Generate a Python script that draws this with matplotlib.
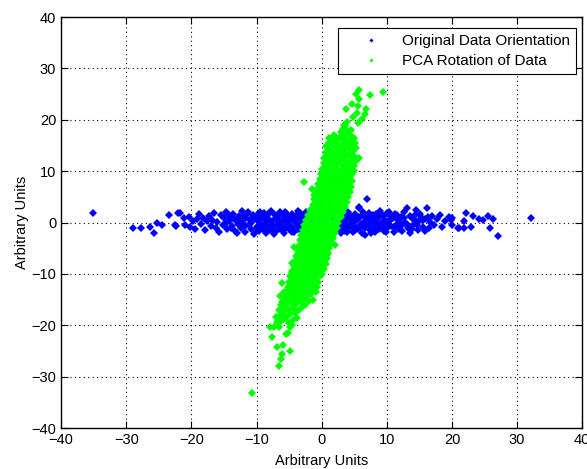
import matplotlib
matplotlib.use("Agg")
import matplotlib.pyplot as plt

plt.rcParams['font.family'] = ['Liberation Sans', 'DejaVu Sans']

# original orientation (blue)
blue_x = [
    -35.1, -28.9, -27.7, -26.3, -25.7, -25.2, -24.5, -23.4, -22.3, -21.8, -21.2, -21.0, -22.0, -22.5,
    -20.4, -20.2, -19.8, -19.5, -19.1, -18.8, -18.5, -18.2, -17.9, -17.6,
    -17.3, -17.0, -16.8, -16.5, -16.2, -16.0, -15.7, -15.5, -15.2, -15.0,
    -14.7, -14.5, -14.3, -14.0, -13.8, -13.6, -13.3, -13.1, -12.9, -12.7,
    -12.4, -12.2, -12.0, -11.8, -11.6, -11.4, -11.2, -11.0, -10.8, -10.6,
    -10.4, -10.2, -10.0,
    -9.9, -9.7, -9.6, -9.4, -9.3, -9.1, -9.0, -8.8, -8.7, -8.5,
    -8.4, -8.2, -8.1, -7.9, -7.8, -7.6, -7.5, -7.3, -7.2, -7.0,
    -6.9, -6.7, -6.6, -6.4, -6.3, -6.1, -6.0, -5.8, -5.7, -5.5,
    -5.4, -5.2, -5.1, -4.9, -4.8, -4.6, -4.5, -4.3, -4.2, -4.0,
    -3.9, -3.7, -3.6, -3.4, -3.3, -3.1, -3.0, -2.8, -2.7, -2.5,
    -2.4, -2.2, -2.1, -1.9, -1.8, -1.6, -1.5, -1.3, -1.2, -1.0,
    -0.9, -0.7, -0.6, -0.4, -0.3, -0.1, 0.0, 0.2, 0.3, 0.5,
    0.6, 0.8, 0.9, 1.1, 1.2, 1.4, 1.5, 1.7, 1.8, 2.0,
    2.1, 2.3, 2.4, 2.6, 2.7, 2.9, 3.0, 3.2, 3.3, 3.5,
    3.6, 3.8, 3.9, 4.1, 4.2, 4.4, 4.5, 4.7, 4.8, 5.0,
    5.1, 5.3, 5.4, 5.6, 5.7, 5.9, 6.0, 6.2, 6.3, 6.5,
    6.6, 6.8, 7.0, 7.1, 7.3, 7.4, 7.6, 7.7, 7.9, 8.0,
    8.2, 8.3, 8.5, 8.6, 8.8, 8.9, 9.1, 9.2, 9.4, 9.5,
    9.7, 9.8, 10.0,
    10.1, 10.3, 10.5, 10.7, 10.9, 11.1, 11.3, 11.5, 11.7, 11.9,
    12.1, 12.3, 12.6, 12.8, 13.1, 13.3, 13.6, 13.8, 14.0, 14.3,
    14.5, 14.8, 15.0, 15.3, 15.6, 15.9, 16.1, 16.4, 16.7, 17.0,
    17.3, 17.7, 18.2, 18.5, 18.9, 19.5, 19.8, 21.0, 5.8, 6.7,
    20.0, 20.0, 20.9, 21.9, 22.2, 21.8, 22.9, 23.3, 24.1, 24.7,
    25.5, 25.8, 26.3, 27.1, 32.2,
    -14.9, -14.4, -13.9, -13.5, -13.0, -12.6, -12.1, -11.7, -11.3, -10.9,
    -10.5, -10.1, -9.7, -9.3, -8.9, -8.5, -8.1, -7.7, -7.3, -6.9,
    -6.5, -6.1, -5.7, -5.3, -4.9, -4.5, -4.1, -3.7, -3.3, -2.9,
    3.1, 3.5, 3.9, 4.3, 4.7, 5.1, 5.5, 5.9, 6.3, 6.7,
    7.1, 7.5, 7.9, 8.3, 8.7, 9.1, 9.5, 9.9, 10.3, 10.7,
    11.1, 11.5, 11.9, 12.3, 12.7, 13.1, 13.5, 13.9, 14.3, 14.7,
    15.1, 15.5, 15.9, 16.3,
]
blue_y = [
    1.9, -1.0, -1.0, -0.8, -2.0, 0.0, -0.5, 1.5, -0.7, 1.9, 0.8, -0.5, 1.9, -0.5,
    1.0, -0.8, 0.3, -1.2, 0.6, 1.6, -0.3, 0.9, -1.5, 0.2,
    1.2, -0.7, 0.5, 1.8, -1.0, 0.1, -1.9, 1.4, -0.4, 0.8,
    2.1, -1.3, 0.3, 1.0, -0.6, 1.7, -1.6, 0.5, -0.2, 1.3,
    -1.0, 2.2, 0.0, -1.8, 0.9, 1.6, -0.5, 0.4, -1.3, 1.1,
    -2.2, 0.7, -0.9,
    1.5, 0.2, -1.6, 2.0, -0.4, 0.9, -1.1, 1.8, 0.0, -2.0,
    1.2, -0.7, 0.5, -1.4, 2.3, 0.3, -0.9, 1.6, -1.8, 0.8,
    -0.2, 1.1, -1.2, 2.0, 0.1, -0.6, 1.4, -2.1, 0.6, -1.0,
    1.9, -0.3, 0.9, -1.5, 0.2, 1.7, -0.8, 0.4, -1.9, 1.2,
    -0.1, 2.2, -1.2, 0.7, -0.5, 1.5, -1.7, 0.3, 1.0, -0.9,
    2.0, -0.2, -1.4, 0.8, 1.6, -0.6, 0.1, -2.0, 1.3, -0.3,
    0.5, -1.1, 1.9, 0.0, -1.6, 1.0, -0.7, 0.4, 2.1, -1.3,
    0.9, -0.4, 1.5, -1.9, 0.2, -0.8, 1.2, -0.1, -1.5, 0.6,
    1.8, -0.5, 0.3, -1.2, 1.0, -2.1, 0.0, 1.6, -0.9, 0.5,
    -1.6, 1.3, -0.3, 2.0, -1.0, 0.7, -0.6, 1.1, -1.8, 0.2,
    1.7, -0.8, 0.4, -1.3, 3.1, 1.0, -0.2, -2.0, 1.5, 0.1,
    -1.1, 0.8, 4.5, -0.5, 1.9, -1.5, 0.3, 1.2, -0.9, 0.6,
    -1.9, 1.6, -0.3, 0.9, -1.2, 2.2, 0.0, -0.7, 1.3, -1.6,
    0.5, -0.4, 1.8,
    -1.0, 0.2, 1.3, -0.6, 0.8, -1.8, 1.7, -0.2, 0.5, -1.3,
    1.1, -0.4, 2.0, 0.0, 2.8, -1.0, -2.1, 0.9, -0.5, 1.4,
    2.4, -1.4, 0.3, 1.0, -0.8, 0.6, 2.9, -1.1, 0.1, 1.2,
    -0.5, 0.7, 1.5, -0.9, 0.2, 1.1, 0.5, -1.0, 2.8, -2.4,
    0.9, -0.5, -1.1, 0.2, 1.9, -1.1, -0.8, 1.3, 0.6, 0.4,
    1.3, -1.0, 0.7, -2.6, 0.8,
    -0.2, 1.6, -1.1, 0.6, -2.0, 0.2, 1.0, -0.7, 2.0, -0.1,
    1.4, -1.6, -0.6, 1.1, -1.5, 0.5, 1.9, -0.4, -2.2, 1.3,
    0.4, -1.4, 2.1, 0.0, 1.0, -1.9, 0.6, -0.7, 1.8, 0.2,
    -0.7, 1.9, -1.9, 1.4, -0.1, -1.5, 1.0, -0.8, 2.1, -0.5,
    0.9, -2.1, 1.5, 0.0, -1.0, 1.7, 0.3, -1.8, 2.0, 0.6,
    -0.8, 1.4, 0.2, -1.7, 0.9, -0.3, 1.2, -1.3, 0.4, -0.4,
    1.6, 0.5, -1.6, 1.1,
]

# PCA rotation (green): dense core read row by row (y level, x positions)
green_core_y = [
    17.0, 16.5, 16.0, 15.5, 15.0, 14.5, 14.0, 13.5, 13.0, 12.5,
    12.0, 11.5, 11.0, 10.5, 10.0, 9.5, 9.0, 8.5, 8.0, 7.5,
    7.0, 6.5, 6.0, 5.5, 5.0, 4.5, 4.0, 3.5, 3.0, 2.5,
    2.0, 1.5, 1.0, 0.5, 0.0, -0.5, -1.0, -1.5, -2.0, -2.5,
    -3.0, -3.5, -4.0, -4.5, -5.0, -5.5, -6.0, -6.5, -7.0, -7.5,
    -8.0, -8.5, -9.0, -9.5, -10.0, -10.5, -11.0, -11.5, -12.0, -12.5,
    -13.0, -13.5, -14.0, -14.5, -15.0,
]
green_core_x = [
    [1.9, 3.1, 4.4], [1.6, 2.7, 3.6, 4.9], [2.2, 3.3, 4.5], [1.2, 2.0, 3.9, 5.1],
    [1.7, 2.9, 3.4, 4.6], [0.9, 2.3, 3.7, 4.2, 5.2], [1.4, 2.6, 3.1, 4.8], [0.6, 1.9, 3.5, 4.4],
    [1.1, 2.4, 2.9, 4.0, 5.0], [0.4, 1.6, 3.3, 4.6],
    [0.9, 2.1, 2.8, 3.8, 5.2], [0.3, 1.4, 2.5, 4.3], [0.7, 1.9, 3.2, 3.9, 4.9], [0.1, 1.2, 2.4, 3.6, 4.5],
    [0.5, 1.7, 2.9, 4.1, 5.0], [-0.1, 1.0, 2.2, 3.4, 4.6], [0.3, 1.5, 2.6, 3.9, 4.4],
    [-0.3, 0.9, 2.0, 3.1, 4.2], [0.1, 1.3, 2.5, 3.6, 4.7], [-0.5, 0.6, 1.8, 2.9, 4.0],
    [-0.1, 1.1, 2.3, 3.4, 4.5], [-0.7, 0.4, 1.6, 2.7, 3.9], [-0.3, 0.9, 2.1, 3.2, 4.3],
    [-0.9, 0.2, 1.4, 2.5, 3.7], [-0.5, 0.7, 1.9, 3.0, 4.1], [-1.2, -0.1, 1.1, 2.3, 3.5],
    [-0.7, 0.4, 1.6, 2.8, 3.9], [-1.4, -0.3, 0.9, 2.0, 3.2], [-1.0, 0.2, 1.3, 2.5, 3.6],
    [-1.8, -0.6, 0.6, 1.8, 2.9],
    [-1.3, -0.1, 1.1, 2.2, 3.3], [-2.1, -0.9, 0.3, 1.5, 2.7], [-1.6, -0.4, 0.8, 2.0, 2.9],
    [-2.4, -1.2, 0.0, 1.2, 2.4], [-1.9, -0.7, 0.5, 1.7, 2.5], [-2.7, -1.5, -0.3, 0.9, 2.1],
    [-2.2, -1.0, 0.2, 1.4, 2.3], [-2.9, -1.7, -0.6, 0.6, 1.8], [-2.5, -1.3, -0.1, 1.1, 2.0],
    [-3.1, -1.9, -0.8, 0.4, 1.5],
    [-2.7, -1.5, -0.4, 0.8, 1.7], [-3.3, -2.2, -1.0, 0.1, 1.2], [-2.9, -1.8, -0.6, 0.5, 1.4],
    [-3.5, -2.4, -1.2, -0.1, 1.0], [-3.1, -2.0, -0.9, 0.3, 1.2], [-3.7, -2.6, -1.5, -0.3, 0.8],
    [-3.3, -2.2, -1.1, 0.0, 1.0], [-3.9, -2.8, -1.7, -0.6, 0.5], [-3.5, -2.4, -1.3, -0.2, 0.8],
    [-4.1, -3.0, -1.9, -0.8, 0.3],
    [-3.7, -2.6, -1.5, -0.4, 0.6], [-4.3, -3.2, -2.1, -1.0, 0.1], [-3.9, -2.8, -1.7, -0.6, 0.4],
    [-4.6, -3.4, -2.3, -1.2, -0.1], [-4.1, -3.0, -1.9, -0.8, 0.1], [-4.8, -3.6, -2.5, -1.4, -0.3],
    [-4.3, -3.2, -2.1, -1.0], [-5.0, -3.8, -2.7, -1.6, -0.5], [-4.5, -3.4, -2.3, -1.2],
    [-5.2, -4.0, -2.9, -1.8, -0.7],
    [-4.7, -3.6, -2.5, -1.4], [-5.4, -4.2, -3.1, -2.0, -0.9], [-4.9, -3.8, -2.7, -1.6],
    [-5.6, -4.4, -3.3, -2.2], [-5.1, -4.0, -2.9, -1.3],
]

# PCA rotation (green): sparse ends and stray points
green_x = [
    9.4, 5.7, 5.3, 7.4, 5.8, 4.6, 5.5, 3.8, 6.8, 5.4, 6.7, 6.2, 3.9, 5.5, 4.5, 3.3, 4.0,
    1.2, 2.2, 0.6, 5.7, -2.7, -1.5, 4.0, -1.2, 0.7, 3.4, 4.8, 3.6, 3.0, 4.1,
    -6.1, -4.5, -3.2, -1.9, -5.4, -3.9, -2.5, -6.0, -4.6, -3.0, -6.6, -5.2, -3.5,
    -5.9, -4.1, -6.5, -4.8, -7.0, -5.5, -3.8, -6.2, -4.4, -6.8, -5.0,
    -10.7, -6.6, -6.2, -6.1, -4.9, -6.9, -6.0, -5.4, -7.6, -7.9, -7.3, -6.5, -4.9, -4.6,
    -5.8, -6.1, -5.4, -4.3, -6.2, -6.4, -5.8, -6.1, -4.8, -4.6, -3.3, -2.0, -5.6, -5.1,
    -0.5, -0.7, 0.8, 1.3, 2.1, -4.3, -3.3, -4.6,
]
green_y = [
    25.5, 25.8, 25.1, 24.8, 24.0, 23.1, 22.7, 22.1, 22.0, 21.4, 21.2, 20.1, 19.6, 19.4, 18.1, 18.3, 17.4,
    16.4, 15.7, 13.8, 12.5, 7.9, 6.5, 6.3, 5.4, 14.9, 19.0, 20.6, 18.7, 17.6, 17.9,
    -15.4, -15.6, -15.5, -15.3, -16.1, -15.9, -16.0, -16.4, -16.6, -16.5, -17.1, -16.9, -17.0,
    -17.4, -17.6, -18.1, -17.9, -18.4, -18.6, -18.5, -19.1, -18.9, -19.4, -19.6,
    -33.2, -28.0, -26.6, -25.6, -25.1, -24.2, -23.8, -21.7, -22.2, -20.4, -20.4, -20.3, -20.4, -19.9,
    -18.8, -17.7, -18.3, -16.9, -16.0, -14.4, -13.5, -11.8, -12.5, -9.9, -13.1, -13.5, -17.0, -21.6,
    -9.6, -11.8, -6.3, -3.4, -4.4, -4.7, -4.4, -7.9,
]

# flatten the row-read core into point lists
pca_x = list(green_x)
pca_y = list(green_y)
for yy, xs in zip(green_core_y, green_core_x):
    for xx in xs:
        pca_x.append(xx)
        pca_y.append(yy)

fig = plt.figure(figsize=(5.87, 4.69), dpi=100)
ax = fig.add_axes([0.104, 0.0874, 0.888, 0.8763])

ax.plot(blue_x, blue_y, linestyle='none', marker='D', markersize=4.2,
        markeredgewidth=0, color='#0000ff', label='Original Data Orientation')
ax.plot(pca_x, pca_y, linestyle='none', marker='D', markersize=4.2,
        markeredgewidth=0, color='#00ff00', label='PCA Rotation of Data')

ax.set_xlim(-40, 40)
ax.set_ylim(-40, 40)
ax.set_xticks(range(-40, 41, 10))
ax.set_yticks(range(-40, 41, 10))
ax.grid(True, linestyle=(0, (1, 3)), color='black', linewidth=0.8)
ax.tick_params(direction='in', top=True, right=True, labelsize=10.5, length=5)
for s in ax.spines.values():
    s.set_linewidth(1.0)
ax.set_xlabel('Arbitrary Units', fontsize=10.5, labelpad=5)
ax.set_ylabel('Arbitrary Units', fontsize=10.5, labelpad=2)

leg = ax.legend(loc='upper right', bbox_to_anchor=(0.988, 0.973), borderaxespad=0,
                fontsize=11, markerscale=0.5, fancybox=False,
                edgecolor='black', framealpha=1,
                handletextpad=0.2, handlelength=3.6, borderpad=0.4, labelspacing=0.4)
leg.get_frame().set_linewidth(0.8)

fig.savefig('out.png', dpi=100)
